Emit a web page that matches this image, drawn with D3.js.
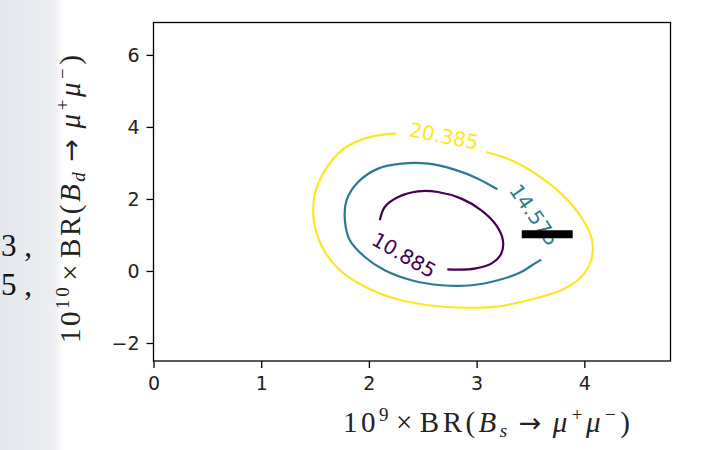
<!DOCTYPE html>
<html>
<head>
<meta charset="utf-8">
<script src="https://cdn.jsdelivr.net/npm/d3@7"></script>
<style>
  body { margin: 0; background: #fff; }
  svg { display: block; }
</style>
</head>
<body>
<svg id="chart"></svg>
<script>
// values (data coordinates)
var xTicks = [0, 1, 2, 3, 4];
var yTicks = [-2, 0, 2, 4, 6];
var levels = ["10.885", "14.575", "20.385"];

var contour10885 = [
  [2.101, 1.407], [2.147, 1.776], [2.271, 2.054], [2.456, 2.212], [2.641, 2.193],
  [2.858, 2.009], [3.044, 1.685], [3.183, 1.268], [3.244, 0.852], [3.229, 0.483],
  [3.136, 0.205], [2.981, 0.067], [2.827, 0.039], [2.728, 0.047]
];
var contour14575 = [
  [3.600, 0.316], [3.538, 0.205], [3.414, -0.028], [3.197, -0.258], [2.951, -0.397],
  [2.673, -0.397], [2.395, -0.258], [2.147, 0.019], [1.962, 0.389], [1.823, 0.852],
  [1.777, 1.407], [1.792, 1.962], [1.900, 2.470], [2.085, 2.842], [2.302, 2.981],
  [2.549, 2.981], [2.796, 2.814], [3.012, 2.564], [3.192, 2.268]
];
var contour20385 = [
  [3.090, 3.303], [3.322, 3.072], [3.569, 2.656], [3.785, 2.148], [3.970, 1.499],
  [4.072, 0.852], [4.063, 0.297], [3.970, -0.167], [3.785, -0.536], [3.475, -0.813],
  [3.167, -0.999], [2.858, -1.016], [2.549, -0.952], [2.240, -0.766], [1.960, -0.430],
  [1.720, 0.050], [1.560, 0.700], [1.487, 1.450], [1.499, 2.148], [1.592, 2.795],
  [1.746, 3.350], [1.931, 3.647], [2.085, 3.766], [2.256, 3.813]
];
var labelX = [2.326, 3.536, 2.697];
var labelY = [0.444, 1.555, 3.749];
var bsBar = [[3.419, 1.02], [3.892, 1.02]];

var width = 705, height = 450;
var plotLeft = 153.5, plotRight = 670.5, plotTop = 22.5, plotBottom = 361;
var colors = ["#440154", "#2b7b8e", "#fde725"];
var angles = [30, 55, 11];

var svg = d3.select("#chart").attr("width", width).attr("height", height);

// grey strip of the page on the left
var grad = svg.append("defs").append("linearGradient")
    .attr("id", "strip").attr("x1", "0").attr("x2", "1").attr("y1", "0").attr("y2", "0");
grad.append("stop").attr("offset", "0%").attr("stop-color", "#e4e7ec");
grad.append("stop").attr("offset", "85%").attr("stop-color", "#eceef1");
grad.append("stop").attr("offset", "100%").attr("stop-color", "#ffffff");
svg.append("rect").attr("x", 0).attr("y", 0).attr("width", 64).attr("height", height)
    .attr("fill", "url(#strip)");

var xScale = d3.scaleLinear().domain([0, 4.8]).range([plotLeft, plotRight]);
var yScale = d3.scaleLinear().domain([-2.5, 6.9]).range([plotBottom, plotTop]);

var line = d3.line()
    .x(function(d) { return xScale(d[0]); })
    .y(function(d) { return yScale(d[1]); })
    .curve(d3.curveCatmullRom.alpha(0.5));

var contours = [contour10885, contour14575, contour20385];
contours.forEach(function(c, i) {
  svg.append("path")
      .datum(c)
      .attr("d", line)
      .attr("fill", "none")
      .attr("stroke", colors[i])
      .attr("stroke-width", 2.2);
});

// contour labels
levels.forEach(function(lv, i) {
  var px = xScale(labelX[i]), py = yScale(labelY[i]);
  svg.append("text")
      .attr("transform", "translate(" + px + "," + py + ") rotate(" + angles[i] + ")")
      .attr("text-anchor", "middle")
      .attr("dy", "0.36em")
      .attr("fill", colors[i])
      .style("font-family", "DejaVu Sans, sans-serif")
      .style("font-size", "20px")
      .text(lv);
});

// measured B_s point
svg.append("path")
    .datum(bsBar)
    .attr("d", d3.line().x(function(d) { return xScale(d[0]); }).y(function(d) { return yScale(d[1]); }))
    .attr("stroke", "#000")
    .attr("stroke-width", 8);

// frame
svg.append("rect")
    .attr("x", plotLeft).attr("y", plotTop)
    .attr("width", plotRight - plotLeft).attr("height", plotBottom - plotTop)
    .attr("fill", "none").attr("stroke", "#000").attr("stroke-width", 1.3);

// axes
var gx = svg.append("g")
    .attr("transform", "translate(0," + plotBottom + ")")
    .call(d3.axisBottom(xScale).tickValues(xTicks).tickFormat(d3.format("d"))
      .tickSize(7).tickPadding(9).tickSizeOuter(0));
var gy = svg.append("g")
    .attr("transform", "translate(" + plotLeft + ",0)")
    .call(d3.axisLeft(yScale).tickValues(yTicks).tickFormat(d3.format("d"))
      .tickSize(7).tickPadding(7).tickSizeOuter(0));
[gx, gy].forEach(function(g) {
  g.select(".domain").remove();
  g.selectAll("line").attr("stroke", "#000").attr("stroke-width", 1.3);
  g.selectAll("text").attr("fill", "#222")
      .style("font-family", "DejaVu Sans, sans-serif").style("font-size", "19px");
});

// axis labels (LaTeX-like)
function mathLabel(t, sup1, sub1) {
  t.append("tspan").text("10");
  t.append("tspan").attr("dy", -11).style("font-size", "19px").text(sup1);
  t.append("tspan").attr("dy", 11).attr("dx", 4).text("\u00d7");
  t.append("tspan").attr("dx", 4).text("BR(");
  t.append("tspan").style("font-style", "italic").text("B");
  t.append("tspan").attr("dy", 5).style("font-size", "19px").style("font-style", "italic").text(sub1);
  t.append("tspan").attr("dy", -5).attr("dx", 8)
      .style("font-family", "DejaVu Sans, sans-serif").style("font-size", "27px").text("\u2192");
  t.append("tspan").attr("dx", 8).style("font-style", "italic").text("\u03bc");
  t.append("tspan").attr("dy", -11).attr("dx", 1).style("font-size", "19px").text("+");
  t.append("tspan").attr("dy", 11).style("font-style", "italic").text("\u03bc");
  t.append("tspan").attr("dy", -11).attr("dx", 1).style("font-size", "19px").text("\u2212");
  t.append("tspan").attr("dy", 11).attr("dx", 1).text(")");
}

var xl = svg.append("text")
    .attr("x", 343).attr("y", 432)
    .attr("textLength", 287).attr("lengthAdjust", "spacing")
    .attr("fill", "#222")
    .style("font-family", "Liberation Serif, serif")
    .style("font-size", "29px");
mathLabel(xl, "9", "s");

var yl = svg.append("text")
    .attr("transform", "translate(80,343) rotate(-90)")
    .attr("textLength", 288).attr("lengthAdjust", "spacing")
    .attr("fill", "#222")
    .style("font-family", "Liberation Serif, serif")
    .style("font-size", "29px");
mathLabel(yl, "10", "d");

// fragments of the surrounding page
svg.append("text").attr("x", 1).attr("y", 256)
    .style("font-family", "Liberation Serif, serif").style("font-size", "31px")
    .attr("fill", "#111").text("3 ,");
svg.append("text").attr("x", 1).attr("y", 295)
    .style("font-family", "Liberation Serif, serif").style("font-size", "31px")
    .attr("fill", "#111").text("5 ,");
</script>
</body>
</html>
